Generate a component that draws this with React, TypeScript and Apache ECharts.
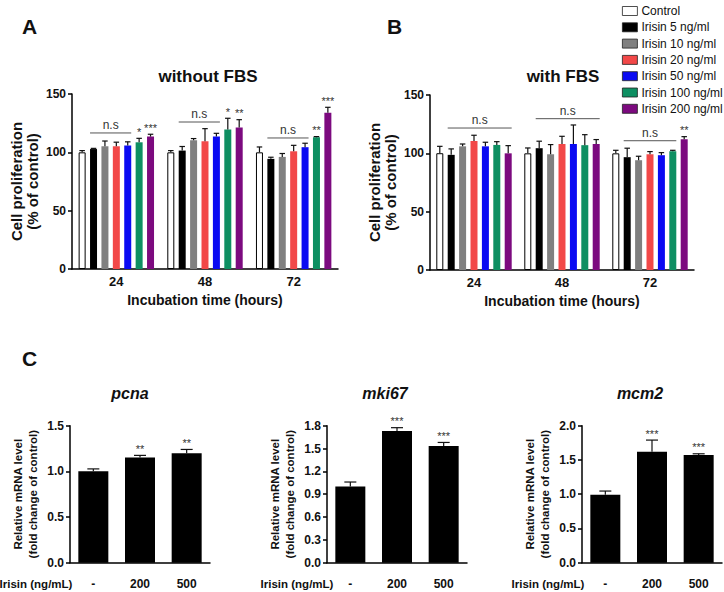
import React, { useEffect, useRef } from "react";
import * as echarts from "echarts";

const FONT = '"Liberation Sans", Arial, Helvetica, sans-serif';
const INK = "#111111";

// ---------- Panels A & B ----------
const hours = ["24", "48", "72"];
const treatments = [
  "Control",
  "Irisin 5 ng/ml",
  "Irisin 10 ng/ml",
  "Irisin 20 ng/ml",
  "Irisin 50 ng/ml",
  "Irisin 100 ng/ml",
  "Irisin 200 ng/ml",
];
const treatmentColors = ["#ffffff", "#000000", "#808080", "#f24848", "#0a0af2", "#0e8f62", "#7c0a7f"];

// rows: treatment, columns: 24 / 48 / 72 h
const withoutFbsMean = [
  [100, 100, 100],
  [102.8, 101.5, 94.4],
  [105.2, 110.3, 96.1],
  [105.2, 109.5, 100.9],
  [105.8, 113.5, 104.4],
  [108.6, 119.5, 112.9],
  [113.5, 121.2, 134],
];
const withoutFbsErr = [
  [1.5, 1.5, 4.6],
  [0.6, 3.5, 1.4],
  [4.5, 1.5, 2.9],
  [3.5, 10.8, 5.1],
  [3.2, 2.8, 3.4],
  [3.4, 9.7, 0.6],
  [2.0, 6.8, 4.6],
];
const withoutFbsSig = [
  ["", "", ""],
  ["", "", ""],
  ["", "", ""],
  ["", "", ""],
  ["", "", ""],
  ["*", "*", "**"],
  ["***", "**", "***"],
];
const withoutFbsNs = [
  { hour: 0, y: 116.6, from: 1, to: 4 },
  { hour: 1, y: 126, from: 1, to: 4 },
  { hour: 2, y: 112.3, from: 1, to: 4 },
];

const withFbsMean = [
  [100.1, 100, 100],
  [98.7, 104.4, 96.7],
  [106, 99.2, 94.1],
  [110.6, 108, 99.2],
  [106, 108, 98.4],
  [107.2, 107, 101.8],
  [100, 108, 112],
];
const withFbsErr = [
  [5.9, 4.6, 2.6],
  [5.1, 6.0, 7.7],
  [2.0, 8.3, 3.4],
  [4.9, 6.6, 2.3],
  [3.5, 16.3, 2.2],
  [2.8, 9.0, 0.8],
  [6.6, 3.8, 2.3],
];
const withFbsSig = [
  ["", "", ""],
  ["", "", ""],
  ["", "", ""],
  ["", "", ""],
  ["", "", ""],
  ["", "", ""],
  ["", "", "**"],
];
const withFbsNs = [
  { hour: 0, y: 121.7, from: 1, to: 6 },
  { hour: 1, y: 129.7, from: 1, to: 6 },
  { hour: 2, y: 110.8, from: 1, to: 5 },
];
const proliferationTicks = { min: 0, max: 150, interval: 50 };

// ---------- Panel C ----------
const doses = ["-", "200", "500"];
const pcnaMean = [1.0, 1.153, 1.197];
const pcnaErr = [0.027, 0.022, 0.043];
const pcnaSig = ["", "**", "**"];
const mki67Mean = [1.0, 1.73, 1.533];
const mki67Err = [0.06, 0.044, 0.047];
const mki67Sig = ["", "***", "***"];
const mcm2Mean = [0.993, 1.62, 1.572];
const mcm2Err = [0.053, 0.17, 0.018];
const mcm2Sig = ["", "***", "***"];
const pcnaTicks = { min: 0, max: 1.5, interval: 0.5 };
const mki67Ticks = { min: 0, max: 1.8, interval: 0.3 };
const mcm2Ticks = { min: 0, max: 2.0, interval: 0.5 };

// ---------- layout ----------
const BAR_W = 7;
const GAP_W = 4.4;
const STEP = BAR_W + GAP_W;
const C_BAR_W = 30;

function txt(text: string, x: number, y: number, font: string, align = "center", vAlign = "middle") {
  return {
    type: "text",
    x,
    y,
    silent: true,
    style: {
      text,
      font,
      fill: INK,
      align,
      verticalAlign: vAlign,
      textAlign: align,
      textVerticalAlign: vAlign,
    },
  };
}

function errRender(nSeries: number, barStep: number, cap: number, labelOf: (i: number) => string, starFont: string) {
  return (params: any, api: any) => {
    const cat = api.value(0);
    const mean = api.value(1);
    const err = api.value(2);
    const si = api.value(3);
    const base = api.coord([cat, mean]);
    const top = api.coord([cat, mean + err]);
    const x = base[0] + (si - (nSeries - 1) / 2) * barStep;
    const children: any[] = [
      { type: "line", shape: { x1: x, y1: base[1], x2: x, y2: top[1] }, style: { stroke: INK, lineWidth: 1.2 } },
      { type: "line", shape: { x1: x - cap / 2, y1: top[1], x2: x + cap / 2, y2: top[1] }, style: { stroke: INK, lineWidth: 1.2 } },
    ];
    const label = labelOf(params.dataIndex);
    if (label) {
      children.push({
        type: "text",
        style: {
          text: label,
          x,
          y: top[1] - 1,
          font: starFont,
          fill: "#333",
          align: "center",
          verticalAlign: "bottom",
          textAlign: "center",
          textVerticalAlign: "bottom",
        },
      });
    }
    return { type: "group", children };
  };
}

function nsRender(nSeries: number) {
  return (params: any, api: any) => {
    const cat = api.value(0);
    const y = api.value(1);
    const from = api.value(2);
    const to = api.value(3);
    const p = api.coord([cat, y]);
    const x1 = p[0] + (from - (nSeries - 1) / 2) * STEP - BAR_W / 2;
    const x2 = p[0] + (to - (nSeries - 1) / 2) * STEP + BAR_W / 2;
    return {
      type: "group",
      children: [
        { type: "line", shape: { x1, y1: p[1], x2, y2: p[1] }, style: { stroke: "#555", lineWidth: 1 } },
        {
          type: "text",
          style: {
            text: "n.s",
            x: (x1 + x2) / 2,
            y: p[1] - 2,
            font: `12px ${FONT}`,
            fill: "#333",
            align: "center",
            verticalAlign: "bottom",
            textAlign: "center",
            textVerticalAlign: "bottom",
          },
        },
      ],
    };
  };
}

function proliferationSeries(axis: number, mean: number[][], err: number[][], sig: string[][], ns: any[]) {
  const bars = treatments.map((name, i) => ({
    type: "bar",
    name,
    xAxisIndex: axis,
    yAxisIndex: axis,
    barWidth: BAR_W,
    barGap: `${(GAP_W / BAR_W) * 100}%`,
    data: mean[i],
    silent: true,
    itemStyle: { color: treatmentColors[i], borderColor: "#000", borderWidth: i === 0 ? 1 : 0 },
  }));
  const errData: number[][] = [];
  const labels: string[] = [];
  mean.forEach((row, si) =>
    row.forEach((m, cat) => {
      errData.push([cat, m, err[si][cat], si]);
      labels.push(sig[si][cat]);
    })
  );
  const errSeries = {
    type: "custom",
    xAxisIndex: axis,
    yAxisIndex: axis,
    data: errData,
    clip: false,
    silent: true,
    z: 5,
    renderItem: errRender(treatments.length, STEP, 5.5, (i) => labels[i], `11px ${FONT}`),
  };
  const nsSeries = {
    type: "custom",
    xAxisIndex: axis,
    yAxisIndex: axis,
    data: ns.map((n) => [n.hour, n.y, n.from, n.to]),
    clip: false,
    silent: true,
    z: 5,
    renderItem: nsRender(treatments.length),
  };
  return [...bars, errSeries, nsSeries];
}

function geneSeries(axis: number, mean: number[], err: number[], sig: string[]) {
  return [
    {
      type: "bar",
      xAxisIndex: axis,
      yAxisIndex: axis,
      barWidth: C_BAR_W,
      data: mean,
      silent: true,
      itemStyle: { color: "#000" },
    },
    {
      type: "custom",
      xAxisIndex: axis,
      yAxisIndex: axis,
      data: mean.map((m, i) => [i, m, err[i], 0]),
      clip: false,
      silent: true,
      z: 5,
      renderItem: errRender(1, 0, 12, (i) => sig[i], `11px ${FONT}`),
    },
  ];
}

const axisLineStyle = { show: true, lineStyle: { color: "#000", width: 1.5 } };

function catAxis(grid: number, data: string[], opts: any) {
  return {
    type: "category",
    gridIndex: grid,
    data,
    axisLine: axisLineStyle,
    axisTick: { show: false },
    splitLine: { show: false },
    ...opts,
  };
}

function valAxis(grid: number, ticks: any, opts: any) {
  return {
    type: "value",
    gridIndex: grid,
    min: ticks.min,
    max: ticks.max,
    interval: ticks.interval,
    axisLine: axisLineStyle,
    axisTick: { show: true, length: 4, lineStyle: { color: "#000", width: 1.5 } },
    splitLine: { show: false },
    ...opts,
  };
}

export default function App() {
  const ref = useRef<HTMLDivElement>(null);
  useEffect(() => {
    document.body.style.margin = "0";
    if (!ref.current) return;
    const chart = echarts.init(ref.current, null, { renderer: "svg" });

    const abTickLabel = { fontFamily: FONT, fontWeight: "bold", fontSize: 12, color: INK, margin: 6 };
    const abName = { fontFamily: FONT, fontWeight: "bold", fontSize: 15, lineHeight: 16.5, color: INK };
    const cTickLabel = { fontFamily: FONT, fontWeight: "bold", fontSize: 12, color: INK, margin: 6 };
    const cName = { fontFamily: FONT, fontWeight: "bold", fontSize: 11.5, lineHeight: 15, color: INK };

    const option: any = {
      animation: false,
      backgroundColor: "#ffffff",
      textStyle: { fontFamily: FONT },
      grid: [
        { left: 72, top: 94, width: 266, height: 175 },
        { left: 430, top: 95, width: 264, height: 175 },
        { left: 70, top: 425.7, width: 140, height: 137 },
        { left: 327, top: 425.7, width: 140, height: 137 },
        { left: 582, top: 425.7, width: 140, height: 137 },
      ],
      legend: {
        data: treatments,
        orient: "vertical",
        left: 617,
        top: 0,
        itemWidth: 15,
        itemHeight: 9,
        itemGap: 4.3,
        icon: "rect",
        selectedMode: false,
        itemStyle: { borderColor: "#222", borderWidth: 0.8 },
        textStyle: { fontFamily: FONT, fontSize: 12, color: INK, lineHeight: 12, padding: [0, 0, 0, -1] },
      },
      xAxis: [
        catAxis(0, hours, {
          axisLabel: { ...abTickLabel, fontSize: 13 },
          name: "Incubation time (hours)",
          nameLocation: "middle",
          nameGap: 23,
          nameTextStyle: { ...abName, fontSize: 14 },
        }),
        catAxis(1, hours, {
          axisLabel: { ...abTickLabel, fontSize: 13 },
          name: "Incubation time (hours)",
          nameLocation: "middle",
          nameGap: 23,
          nameTextStyle: { ...abName, fontSize: 14 },
        }),
        catAxis(2, doses, { axisLabel: { ...cTickLabel, margin: 15 } }),
        catAxis(3, doses, { axisLabel: { ...cTickLabel, margin: 15 } }),
        catAxis(4, doses, { axisLabel: { ...cTickLabel, margin: 15 } }),
      ],
      yAxis: [
        valAxis(0, proliferationTicks, {
          axisLabel: abTickLabel,
          name: "Cell proliferation\n(% of control)",
          nameLocation: "middle",
          nameGap: 31,
          nameTextStyle: abName,
        }),
        valAxis(1, proliferationTicks, {
          axisLabel: abTickLabel,
          name: "Cell proliferation\n(% of control)",
          nameLocation: "middle",
          nameGap: 31,
          nameTextStyle: abName,
        }),
        valAxis(2, pcnaTicks, {
          axisLabel: { ...cTickLabel, formatter: (v: number) => v.toFixed(1) },
          name: "Relative mRNA level\n(fold change of control)",
          nameLocation: "middle",
          nameGap: 30,
          nameTextStyle: cName,
        }),
        valAxis(3, mki67Ticks, {
          axisLabel: { ...cTickLabel, formatter: (v: number) => v.toFixed(1) },
          name: "Relative mRNA level\n(fold change of control)",
          nameLocation: "middle",
          nameGap: 30,
          nameTextStyle: cName,
        }),
        valAxis(4, mcm2Ticks, {
          axisLabel: { ...cTickLabel, formatter: (v: number) => v.toFixed(1) },
          name: "Relative mRNA level\n(fold change of control)",
          nameLocation: "middle",
          nameGap: 30,
          nameTextStyle: cName,
        }),
      ],
      series: [
        ...proliferationSeries(0, withoutFbsMean, withoutFbsErr, withoutFbsSig, withoutFbsNs),
        ...proliferationSeries(1, withFbsMean, withFbsErr, withFbsSig, withFbsNs),
        ...geneSeries(2, pcnaMean, pcnaErr, pcnaSig),
        ...geneSeries(3, mki67Mean, mki67Err, mki67Sig),
        ...geneSeries(4, mcm2Mean, mcm2Err, mcm2Sig),
      ],
      graphic: [
        txt("A", 29.5, 26, `bold 21px ${FONT}`),
        txt("B", 394.5, 26, `bold 21px ${FONT}`),
        txt("C", 29.5, 358, `bold 21px ${FONT}`),
        txt("without FBS", 208, 76, `bold 17px ${FONT}`),
        txt("with FBS", 563, 76, `bold 17px ${FONT}`),
        txt("pcna", 130, 393, `italic bold 16px ${FONT}`),
        txt("mki67", 385, 393, `italic bold 16px ${FONT}`),
        txt("mcm2", 640, 393, `italic bold 16px ${FONT}`),
        txt("Irisin (ng/mL)", 36, 584, `bold 11.5px ${FONT}`),
        txt("Irisin (ng/mL)", 297, 584, `bold 11.5px ${FONT}`),
        txt("Irisin (ng/mL)", 548, 584, `bold 11.5px ${FONT}`),
      ],
    };
    chart.setOption(option);
    return () => chart.dispose();
  }, []);
  return <div ref={ref} style={{ width: 724, height: 592 }} />;
}
